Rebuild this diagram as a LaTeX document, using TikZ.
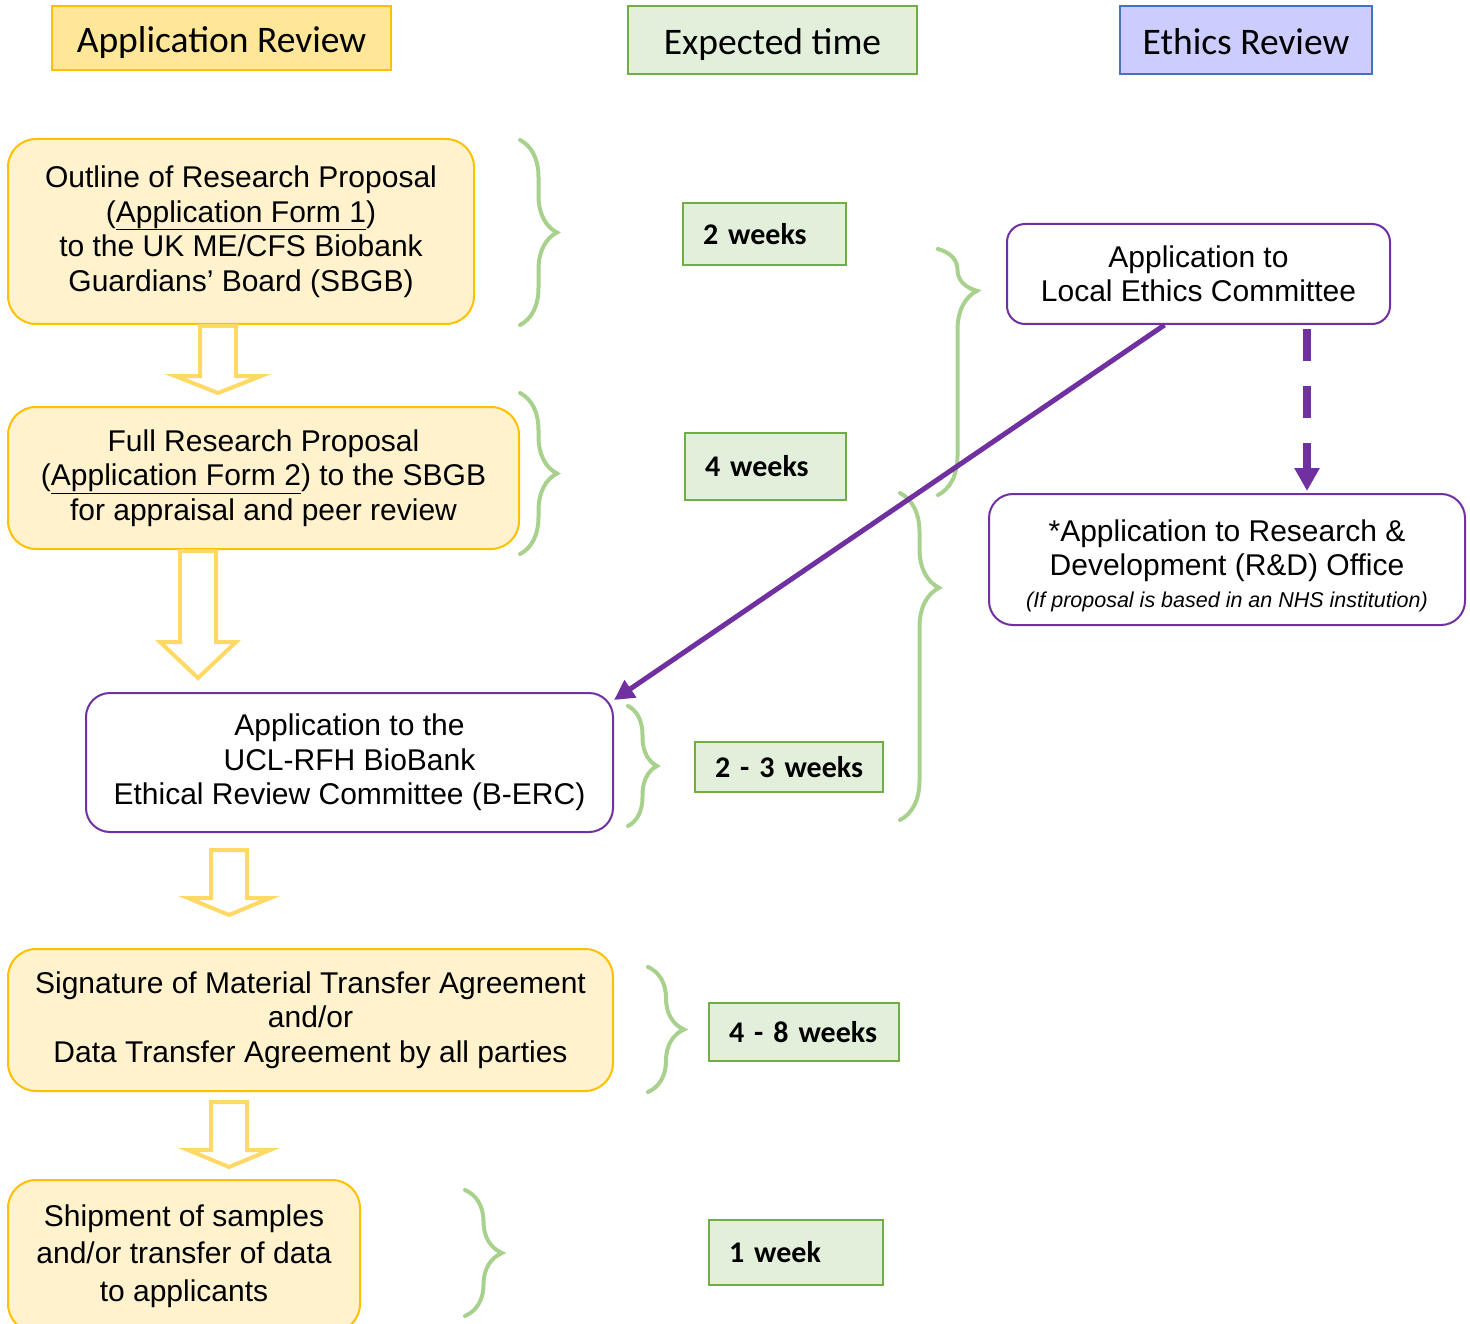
\documentclass[tikz,border=0pt]{standalone}
\usepackage{fontspec}
\setmainfont{Liberation Sans}
\newfontfamily\calibri{Carlito}
\usetikzlibrary{arrows.meta, decorations.pathreplacing}

\definecolor{hdryellow}{HTML}{FFE699}
\definecolor{boxyellow}{HTML}{FFF2CC}
\definecolor{edgeyellow}{HTML}{FFC000}
\definecolor{arrowyellow}{HTML}{FFD966}
\definecolor{timegreen}{HTML}{E2EFDA}
\definecolor{edgegreen}{HTML}{70AD47}
\definecolor{bracegreen}{HTML}{A9D18E}
\definecolor{ethicsblue}{HTML}{CCCCFF}
\definecolor{edgeblue}{HTML}{4472C4}
\definecolor{ethicspurple}{HTML}{7030A0}

% hollow down arrow: centre x, top y, head y, tip y, half head width
\newcommand{\hollowdown}[5]{%
  \draw[arrowyellow, line width=4pt] (#1-18,#2) -- (#1-18,#3) -- (#1-#5,#3) -- (#1,#4)
    -- (#1+#5,#3) -- (#1+18,#3) -- (#1+18,#2) -- cycle;}
% curly brace: x, top y, bottom y, amplitude, aspect
\newcommand{\timebrace}[5]{%
  \draw[timebrace, decoration={amplitude=#4pt, aspect=#5}] (#1,#2) -- (#1,#3);}

\begin{document}
\begin{tikzpicture}[x=1pt, y=-1pt,
    hdr/.style={rectangle, line width=2pt, inner sep=0pt, text height=30pt, text depth=0pt,
      font=\calibri\fontsize{37.5}{45}\selectfont},
    stepbox/.style={rectangle, rounded corners=28pt, draw=edgeyellow, fill=boxyellow,
      line width=2pt, align=center, inner sep=0pt, font=\fontsize{30}{34.5}\selectfont},
    ethbox/.style={rectangle, rounded corners=24pt, draw=ethicspurple, fill=white,
      line width=2pt, align=center, inner sep=0pt, font=\fontsize{30}{34.5}\selectfont},
    weekbox/.style={rectangle, draw=edgegreen, fill=timegreen, line width=2pt,
      inner xsep=20pt, inner ysep=0pt, align=left,
      font=\calibri\bfseries\fontsize{30}{36}\selectfont},
    timebrace/.style={bracegreen, line width=4pt, line cap=round, decorate,
      decoration={brace, amplitude=18pt}}]
  \useasboundingbox (0,0) rectangle (1470,1324);

  % column headings
  \node[hdr, fill=hdryellow, draw=edgeyellow, minimum width=339pt, minimum height=64pt]
    (apphdr) at (221.5,38) {Application Review};
  \node[hdr, fill=timegreen, draw=edgegreen, minimum width=289pt, minimum height=68pt]
    (timehdr) at (772.5,40) {Expected time};
  \node[hdr, fill=ethicsblue, draw=edgeblue, minimum width=252pt, minimum height=68pt]
    (ethhdr) at (1246,40) {Ethics Review};

  % braces
  \timebrace{520}{140}{325}{37}{0.5}
  \timebrace{520}{393}{554}{37}{0.5}
  \timebrace{938}{249}{495}{39}{0.17}
  \timebrace{900}{493}{820}{39}{0.29}
  \timebrace{628}{706}{826}{29}{0.5}
  \timebrace{648}{967}{1092}{36}{0.5}
  \timebrace{465}{1190}{1316}{37}{0.5}

  % application steps
  \node[stepbox, minimum width=466pt, minimum height=185pt] (outline) at (241,231.5)
    {Outline of Research Proposal\\(\underline{Application Form 1})\\to the UK ME/CFS Biobank\\Guardians' Board (SBGB)};
  \node[stepbox, minimum width=511pt, minimum height=142pt] (full) at (263.5,478)
    {Full Research Proposal\\(\underline{Application Form 2}) to the SBGB\\for appraisal and peer review};
  \node[ethbox, minimum width=527pt, minimum height=139pt] (berc) at (349.5,762.5)
    {Application to the\\UCL-RFH BioBank\\Ethical Review Committee (B-ERC)};
  \node[stepbox, minimum width=605pt, minimum height=142pt] (mta) at (310.5,1020)
    {Signature of Material Transfer Agreement\\and/or\\Data Transfer Agreement by all parties};
  \node[stepbox, minimum width=352pt, minimum height=152pt, font=\fontsize{30}{37.5}\selectfont]
    (ship) at (184,1256) {Shipment of samples\\and/or transfer of data\\to applicants};

  % ethics side
  \node[ethbox, minimum width=383pt, minimum height=100pt, rounded corners=18pt] (lec) at (1198.5,274)
    {Application to\\Local Ethics Committee};
  \node[ethbox, minimum width=476pt, minimum height=131pt] (rnd) at (1227,559.5)
    {\rule{0pt}{34pt}*Application to Research \&\\Development (R\&D) Office\\[-3pt]{\fontsize{21.5}{26}\selectfont\itshape (If proposal is based in an NHS institution)}};

  % expected times
  \node[weekbox, text width=123pt, minimum height=62pt] (wk1) at (764.5,234) {\mbox{2 weeks}};
  \node[weekbox, text width=121pt, minimum height=67pt] (wk2) at (765.5,466.5) {\mbox{4 weeks}};
  \node[weekbox, text width=148pt, minimum height=50pt] (wk3) at (789,767) {\mbox{2 - 3 weeks}};
  \node[weekbox, text width=150pt, minimum height=58pt] (wk4) at (804,1032) {\mbox{4 - 8 weeks}};
  \node[weekbox, text width=134pt, minimum height=65pt] (wk5) at (796,1252.5) {\mbox{1 week}};

  % flow arrows
  \hollowdown{218}{326}{376}{393}{43}
  \hollowdown{198}{551}{642}{678}{38}
  \hollowdown{229}{850}{898}{915}{41}
  \hollowdown{229}{1102}{1150}{1167}{41}

  \draw[ethicspurple, line width=5pt, -{Triangle[length=20pt, width=20pt]}]
    ([xshift=-34pt]lec.south) -- ([yshift=-8pt]berc.north east);
  \draw[ethicspurple, line width=8pt, dash pattern=on 32pt off 25pt,
    -{Triangle[length=23pt, width=24pt]}, shorten <=4pt, shorten >=2pt]
    ([xshift=108.5pt]lec.south) -- ([xshift=80pt]rnd.north);
\end{tikzpicture}
\end{document}
